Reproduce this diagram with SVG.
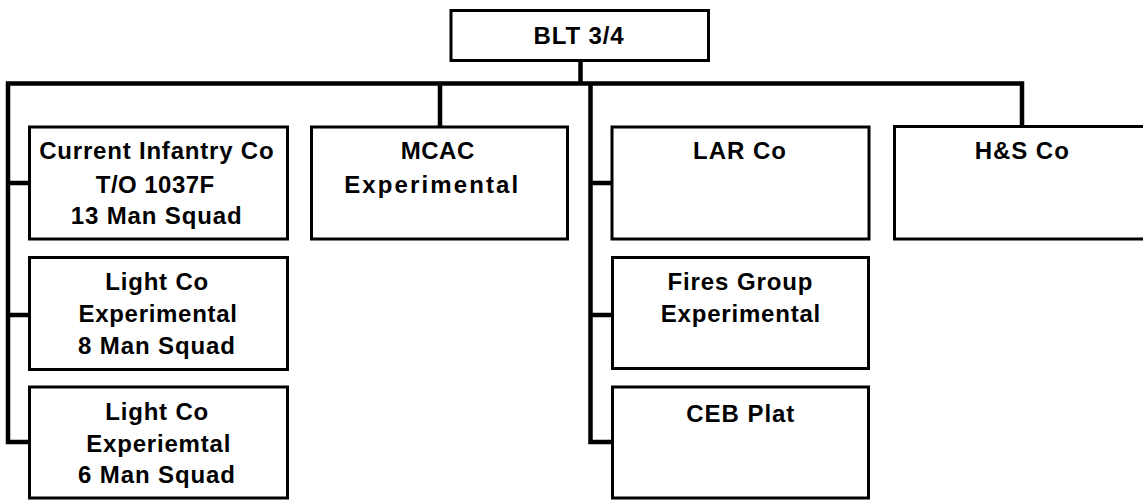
<svg xmlns="http://www.w3.org/2000/svg" width="1143" height="500" viewBox="0 0 1143 500">
<style>
.box{fill:#fff;stroke:#000;stroke-width:3}
.con{fill:none;stroke:#000;stroke-width:4.5;stroke-linejoin:miter}
text{font-family:"Liberation Sans",Arial,sans-serif;font-weight:bold;font-size:24px;fill:#000;text-anchor:middle}
</style>
<rect width="1143" height="500" fill="#fff"/>
<g id="connectors">
<path class="con" d="M580.5,60 V83.5"/>
<path class="con" d="M29.5,442 H8 V83.5 H1022 V126.5"/>
<path class="con" d="M8,183 H29.5 M8,315 H29.5"/>
<path class="con" d="M440,83.5 V127"/>
<path class="con" d="M590.5,83.5 V442 H612"/>
<path class="con" d="M590.5,183 H612 M590.5,315 H612"/>
</g>
<g id="blt">
<rect class="box" x="451" y="10.5" width="257.5" height="50"/>
<text x="578.5" y="44.3" textLength="90">BLT 3/4</text>
</g>
<g id="current-infantry">
<rect class="box" x="29.5" y="127" width="258" height="112"/>
<text x="156.4" y="159.3" textLength="234.5">Current Infantry Co</text>
<text x="155" y="192.7" textLength="118.5">T/O 1037F</text>
<text x="156.2" y="224" textLength="171">13 Man Squad</text>
</g>
<g id="light-co-8">
<rect class="box" x="29.5" y="257.5" width="258" height="112"/>
<text x="156.7" y="290" textLength="103">Light Co</text>
<text x="157.7" y="321.7" textLength="158.5">Experimental</text>
<text x="156.5" y="354" textLength="157">8 Man Squad</text>
</g>
<g id="light-co-6">
<rect class="box" x="29.5" y="387" width="258" height="111"/>
<text x="156.7" y="420" textLength="103">Light Co</text>
<text x="158.3" y="451.7" textLength="144">Experiemtal</text>
<text x="156.5" y="483.3" textLength="157">6 Man Squad</text>
</g>
<g id="mcac">
<rect class="box" x="311.5" y="127" width="256" height="112"/>
<text x="437.5" y="159.3" textLength="73.5">MCAC</text>
<text x="431.2" y="192.7" textLength="174">Experimental</text>
</g>
<g id="lar">
<rect class="box" x="612" y="127" width="257" height="112"/>
<text x="739.5" y="159.3" textLength="93">LAR Co</text>
</g>
<g id="fires">
<rect class="box" x="612.5" y="257.5" width="256" height="111"/>
<text x="740" y="290" textLength="145">Fires Group</text>
<text x="740.5" y="321.7" textLength="159.5">Experimental</text>
</g>
<g id="ceb">
<rect class="box" x="612.5" y="387" width="256" height="111"/>
<text x="740.3" y="421.7" textLength="108">CEB Plat</text>
</g>
<g id="hs">
<rect class="box" x="894.5" y="126.5" width="258" height="112.5"/>
<text x="1021.8" y="159" textLength="94">H&amp;S Co</text>
</g>
</svg>
